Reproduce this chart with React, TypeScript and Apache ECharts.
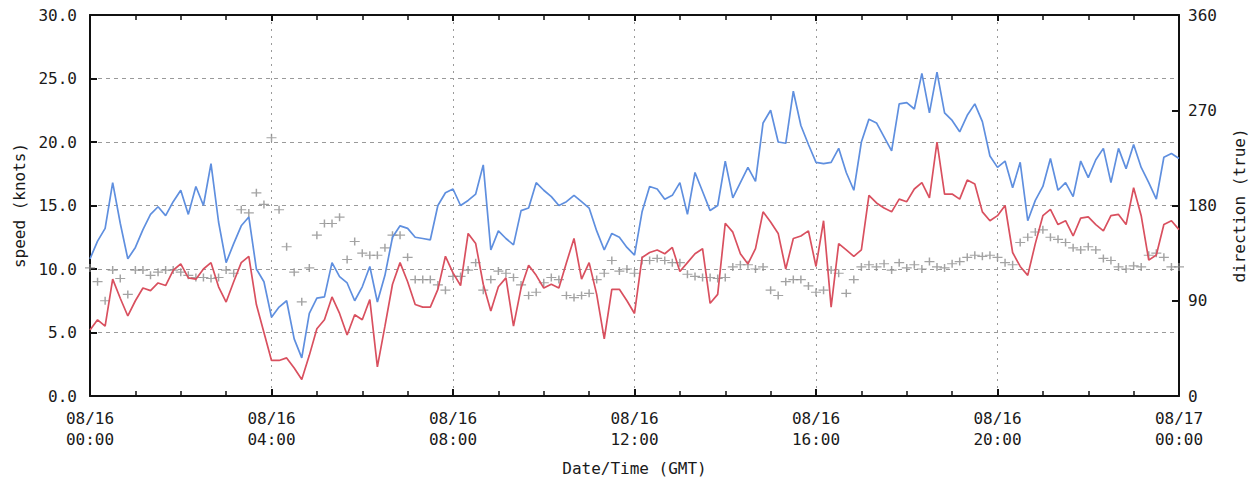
import React, { useEffect, useRef } from "react";
import * as echarts from "echarts";

// 10-minute samples from 08/16 00:00 to 08/17 00:00 (145 points)
const gustKnots = [
  10.8, 12.2, 13.2, 16.8, 13.6, 10.8, 11.7, 13.1, 14.3, 14.9, 14.2, 15.3, 16.2, 14.3, 16.5, 15.0,
  18.3, 13.7, 10.5, 12.0, 13.4, 14.1, 10.0, 9.0, 6.2, 7.0, 7.5, 4.5, 3.0, 6.5, 7.7, 7.8,
  10.5, 9.4, 8.9, 7.5, 8.6, 10.2, 7.4, 9.5, 12.5, 13.4, 13.2, 12.5, 12.4, 12.3, 15.0, 16.0,
  16.3, 15.0, 15.4, 15.9, 18.2, 11.5, 13.0, 12.4, 11.9, 14.6, 14.8, 16.8, 16.2, 15.7, 15.0, 15.3,
  15.8, 15.3, 14.8, 13.0, 11.5, 12.8, 12.5, 11.7, 11.1, 14.5, 16.5, 16.3, 15.5, 15.8, 16.8, 14.3,
  17.6, 16.1, 14.6, 15.0, 18.5, 15.6, 16.8, 18.0, 16.9, 21.5, 22.5, 20.0, 19.9, 24.0, 21.3, 19.8,
  18.4, 18.3, 18.4, 19.5, 17.6, 16.2, 20.0, 21.8, 21.5, 20.4, 19.3, 23.0, 23.1, 22.6, 25.4, 22.3,
  25.5, 22.3, 21.7, 20.8, 22.1, 23.0, 21.6, 18.9, 18.0, 18.5, 16.4, 18.4, 13.8, 15.4, 16.5, 18.7,
  16.2, 16.8, 15.7, 18.5, 17.2, 18.6, 19.5, 16.8, 19.5, 17.9, 19.8, 18.0, 16.8, 15.5, 18.8, 19.1,
  18.7,
];

const speedKnots = [
  5.2, 6.0, 5.5, 9.2, 7.7, 6.3, 7.5, 8.5, 8.3, 8.9, 8.7, 9.9, 10.4, 9.3, 9.2, 10.0,
  10.5, 8.6, 7.4, 9.0, 10.5, 11.0, 7.2, 5.0, 2.8, 2.8, 3.0, 2.2, 1.3, 3.2, 5.3, 6.0,
  7.8, 6.5, 4.8, 6.4, 6.0, 7.6, 2.3, 5.5, 8.8, 10.5, 9.0, 7.2, 7.0, 7.0, 8.4, 11.0,
  9.7, 8.7, 12.8, 12.0, 8.8, 6.7, 8.6, 9.3, 5.5, 8.5, 10.3, 9.5, 8.5, 8.8, 8.5, 10.5,
  12.4, 9.2, 10.5, 8.0, 4.5, 8.4, 8.4, 7.5, 6.5, 10.9, 11.3, 11.5, 11.2, 11.7, 9.8, 10.5,
  11.2, 11.6, 7.3, 8.0, 13.6, 12.9, 11.2, 10.4, 11.6, 14.5, 13.7, 12.8, 10.0, 12.4, 12.6, 13.0,
  10.2, 13.8, 7.0, 12.0, 11.5, 11.0, 11.5, 15.8, 15.2, 14.8, 14.5, 15.5, 15.3, 16.3, 16.8, 15.6,
  20.0, 15.9, 15.9, 15.5, 17.0, 16.7, 14.5, 13.8, 14.2, 15.0, 11.3, 10.2, 9.5, 12.0, 14.2, 14.7,
  13.5, 13.8, 12.6, 14.0, 14.1, 13.5, 13.0, 14.2, 14.3, 13.5, 16.4, 14.2, 10.7, 11.1, 13.5, 13.8,
  13.1,
];

const directionDeg = [
  121, 108, 90, 119, 111, 96, 119, 119, 114, 117, 119, 119, 117, 114, 112, 112,
  111, 112, 119, 116, 176, 173, 192, 181, 244, 176, 141, 117, 89, 121, 152, 163,
  163, 169, 129, 146, 135, 133, 133, 140, 152, 152, 131, 110, 110, 110, 105, 100,
  113, 113, 119, 126, 100, 110, 118, 116, 112, 105, 95, 98, 107, 112, 110, 95,
  93, 95, 97, 110, 116, 128, 118, 120, 116, 128, 128, 130, 128, 126, 126, 115,
  113, 112, 112, 111, 112, 122, 124, 124, 120, 122, 100, 95, 108, 110, 110, 104,
  98, 100, 119, 116, 97, 110, 122, 124, 122, 125, 119, 126, 121, 124, 120, 127,
  122, 121, 125, 127, 131, 133, 132, 133, 131, 126, 124, 145, 150, 155, 157, 150,
  148, 145, 140, 138, 141, 138, 130, 128, 122, 120, 123, 122, 133, 135, 131, 122,
  122,
];

const xTickLabels: Record<number, string> = {
  0: "08/16\n00:00",
  4: "08/16\n04:00",
  8: "08/16\n08:00",
  12: "08/16\n12:00",
  16: "08/16\n16:00",
  20: "08/16\n20:00",
  24: "08/17\n00:00",
};

const FONT = "DejaVu Sans Mono";

export default function App() {
  const ref = useRef<HTMLDivElement>(null);

  useEffect(() => {
    if (!ref.current) return;
    const chart = echarts.init(ref.current, undefined, { renderer: "svg" });
    const hours = (i: number) => i / 6;
    const gust = gustKnots.map((v, i) => [hours(i), v]);
    const speed = speedKnots.map((v, i) => [hours(i), v]);
    const dir = directionDeg.map((v, i) => [hours(i), v]);

    const labelStyle = { fontFamily: FONT, fontSize: 16, color: "#1a1a1a" };

    chart.setOption({
      animation: false,
      backgroundColor: "#fff",
      grid: { left: 90, right: 77, top: 15, bottom: 91, containLabel: false },
      xAxis: [
        {
          type: "value",
          min: 0,
          max: 24,
          interval: 4,
          position: "bottom",
          name: "Date/Time (GMT)",
          nameLocation: "middle",
          nameGap: 64,
          nameTextStyle: { ...labelStyle },
          axisLine: { show: true, onZero: false, lineStyle: { color: "#111", width: 2 } },
          axisTick: { inside: true, length: 7, lineStyle: { color: "#111", width: 2 } },
          minorTick: { show: true, splitNumber: 4, length: 5, lineStyle: { color: "#111", width: 1.5 } },
          splitLine: { show: true, lineStyle: { color: "#9a9a9a", type: [2, 5], width: 1 } },
          axisLabel: {
            ...labelStyle,
            lineHeight: 21,
            margin: 12,
            formatter: (v: number) => xTickLabels[v] ?? "",
          },
        },
        {
          type: "value",
          min: 0,
          max: 24,
          interval: 4,
          position: "top",
          axisLine: { show: true, onZero: false, lineStyle: { color: "#111", width: 2 } },
          axisTick: { inside: true, length: 6, lineStyle: { color: "#111", width: 2 } },
          minorTick: { show: true, splitNumber: 4, length: 5, lineStyle: { color: "#111", width: 1.5 } },
          splitLine: { show: false },
          axisLabel: { show: false },
        },
      ],
      yAxis: [
        {
          type: "value",
          min: 0,
          max: 30,
          interval: 5,
          position: "left",
          name: "speed (knots)",
          nameLocation: "middle",
          nameRotate: 90,
          nameGap: 62,
          nameTextStyle: { ...labelStyle },
          axisLine: { show: true, onZero: false, lineStyle: { color: "#111", width: 2 } },
          axisTick: { inside: true, length: 7, lineStyle: { color: "#111", width: 2 } },
          splitLine: { show: true, lineStyle: { color: "#9a9a9a", type: [4, 4], width: 1 } },
          axisLabel: { ...labelStyle, margin: 13, formatter: (v: number) => v.toFixed(1) },
        },
        {
          type: "value",
          min: 0,
          max: 360,
          interval: 90,
          position: "right",
          name: "direction (true)",
          nameLocation: "middle",
          nameRotate: 90,
          nameGap: 52,
          nameTextStyle: { ...labelStyle },
          axisLine: { show: true, onZero: false, lineStyle: { color: "#111", width: 2 } },
          axisTick: { inside: true, length: 7, lineStyle: { color: "#111", width: 2 } },
          splitLine: { show: false },
          axisLabel: { ...labelStyle, margin: 9 },
        },
      ],
      series: [
        {
          name: "direction",
          type: "scatter",
          xAxisIndex: 0,
          yAxisIndex: 1,
          data: dir,
          symbol: "path://M0,4L10,4M5,0L5,8",
          symbolSize: [10, 8],
          itemStyle: { color: "none", borderColor: "#8c8c8c", borderWidth: 1.3 },
          z: 1,
        },
        {
          name: "gust",
          type: "line",
          xAxisIndex: 0,
          yAxisIndex: 0,
          data: gust,
          showSymbol: false,
          lineStyle: { color: "#5f8fdf", width: 1.7 },
          z: 3,
        },
        {
          name: "speed",
          type: "line",
          xAxisIndex: 0,
          yAxisIndex: 0,
          data: speed,
          showSymbol: false,
          lineStyle: { color: "#d9505f", width: 1.7 },
          z: 2,
        },
      ],
    });
    return () => chart.dispose();
  }, []);

  return (
    <div
      ref={ref}
      style={{ position: "fixed", left: 0, top: 0, width: 1256, height: 487, background: "#fff" }}
    />
  );
}
